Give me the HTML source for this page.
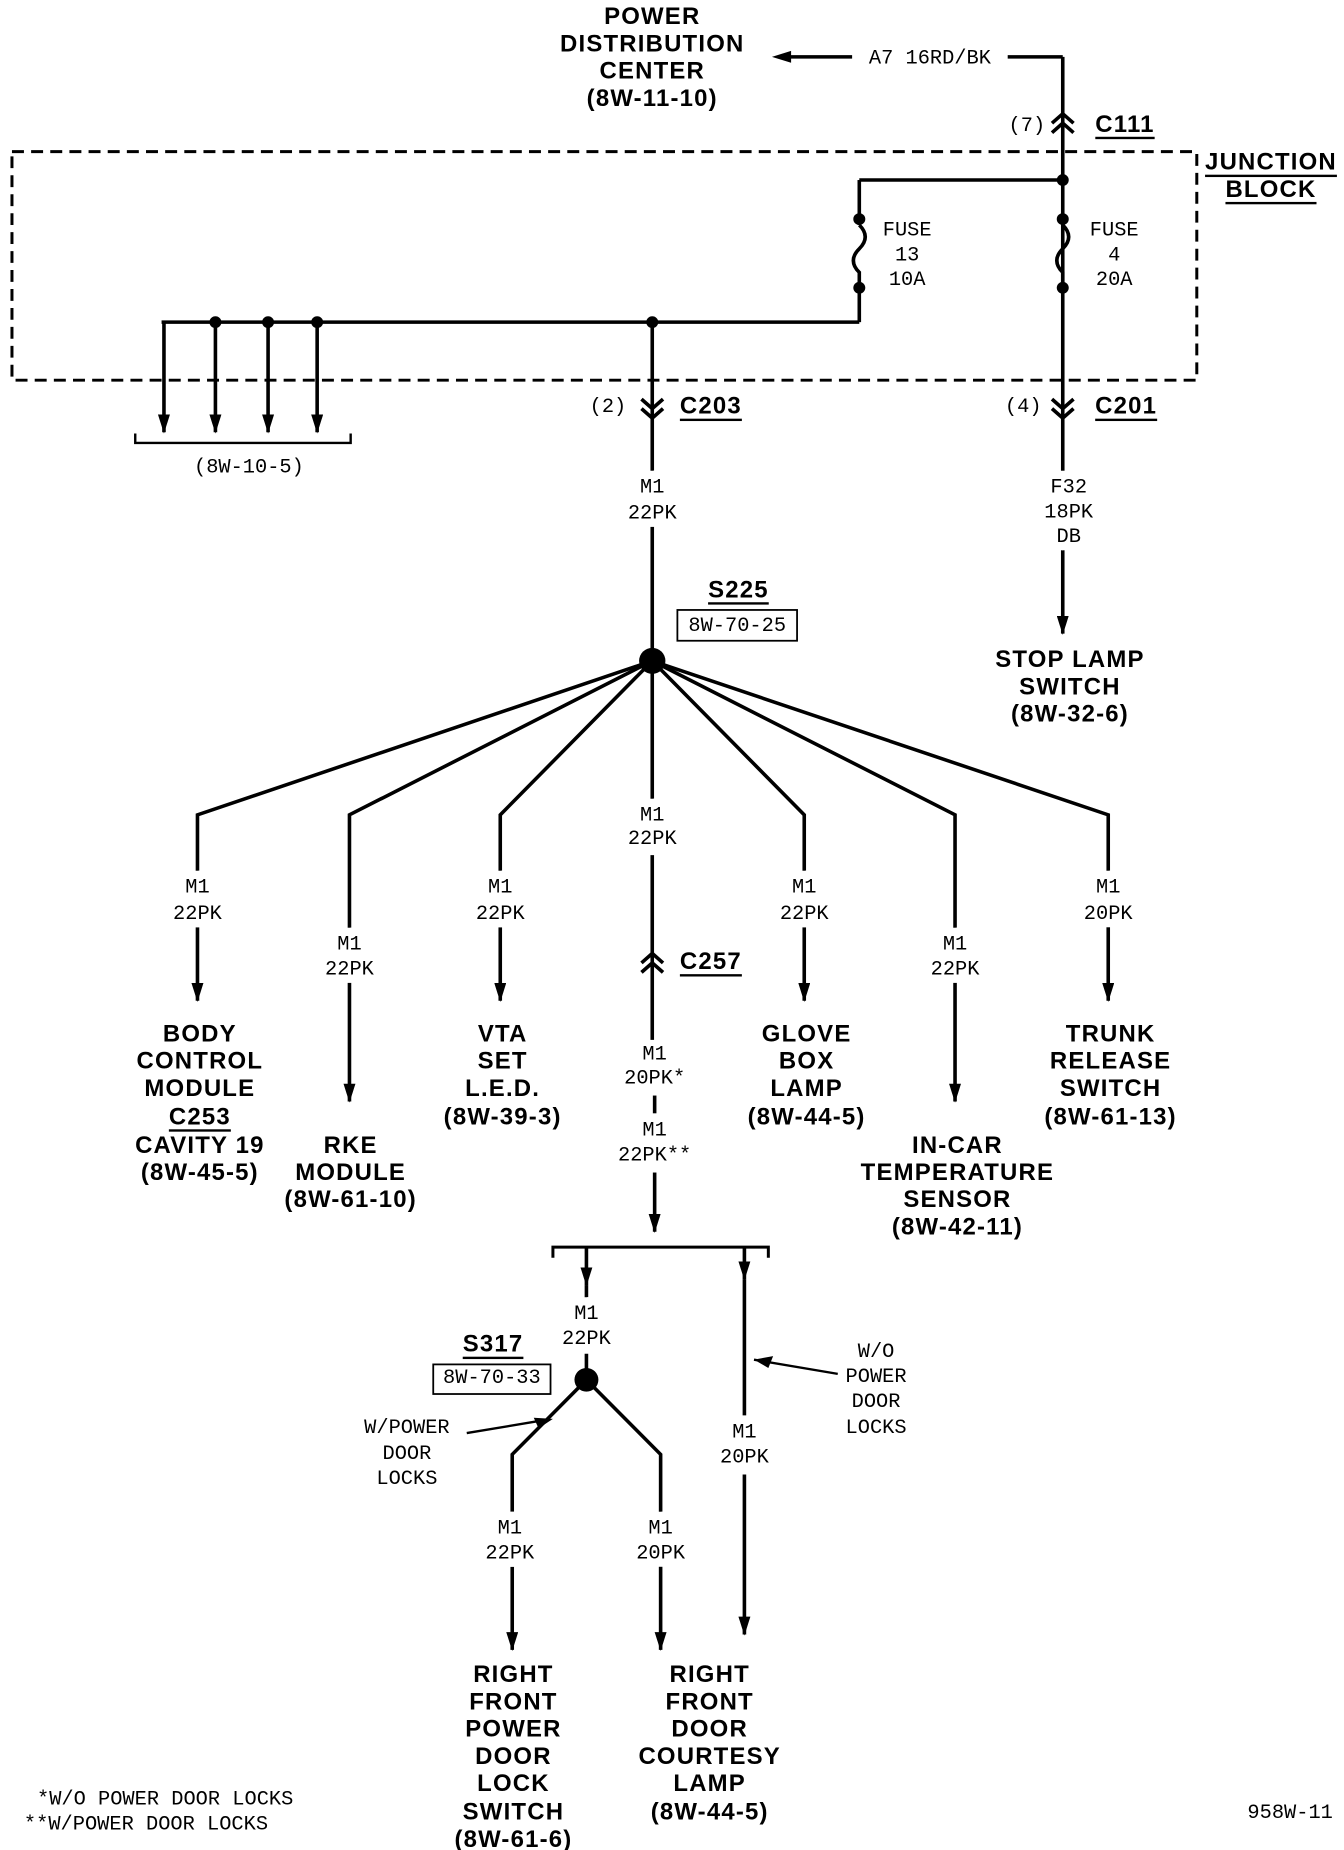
<!DOCTYPE html>
<html><head><meta charset="utf-8"><style>
html,body{margin:0;padding:0;background:#fff;}
svg{display:block;}
.s{font-family:"Liberation Mono",monospace;font-size:17px;fill:#000;text-anchor:middle;dominant-baseline:central;}
.s text.w{paint-order:stroke;stroke:#fff;stroke-width:14px;}
.b{font-family:"Liberation Sans",sans-serif;font-weight:bold;font-size:20px;fill:#000;text-anchor:middle;dominant-baseline:central;letter-spacing:1px;}
</style></head><body>
<svg width="1344" height="1850" viewBox="0 0 1123 1562" preserveAspectRatio="none" xmlns="http://www.w3.org/2000/svg">
<defs><marker id="a" markerWidth="16" markerHeight="10" refX="15" refY="5" orient="auto" markerUnits="userSpaceOnUse"><path d="M0,0 L16,5 L0,10 Z" fill="#000"/></marker></defs>
<g stroke="#000" stroke-width="3" fill="none">
<line x1="660" y1="48" x2="712" y2="48"/><line x1="842" y1="48" x2="888" y2="48"/>
<path d="M645,48 L661,43 L661,53 Z" fill="#000" stroke="none"/>
<line x1="888" y1="48" x2="888" y2="243"/>
<path d="M879,104 L888,96 L897,104 M879,112 L888,104 L897,112"/>
<rect x="10" y="128" width="990" height="193" stroke-dasharray="10,6" stroke-width="2.5"/>
<line x1="718" y1="152" x2="888" y2="152"/>
<line x1="718" y1="152" x2="718" y2="190"/>
<path d="M718,190 q10,10 0,20 q-10,10 0,20 L718,243"/>
<path d="M888,190 q10,10 0,20 q-10,10 0,20 L888,243" />
<line x1="718" y1="243" x2="718" y2="272"/>
<line x1="135" y1="272" x2="718" y2="272"/>
<line x1="137" y1="272" x2="137" y2="365" marker-end="url(#a)"/>
<line x1="180" y1="272" x2="180" y2="365" marker-end="url(#a)"/>
<line x1="224" y1="272" x2="224" y2="365" marker-end="url(#a)"/>
<line x1="265" y1="272" x2="265" y2="365" marker-end="url(#a)"/>
<path d="M113,366 L113,374 L293,374 L293,366" stroke-width="2"/>
<line x1="545" y1="272" x2="545" y2="558"/>
<path d="M536,337 L545,345 L554,337 M536,345 L545,353 L554,345"/>
<line x1="888" y1="243" x2="888" y2="535" marker-end="url(#a)"/>
<path d="M879,337 L888,345 L897,337 M879,345 L888,353 L897,345"/>
<path d="M545,558 L165,688 L165,845" marker-end="url(#a)"/>
<path d="M545,558 L292,688 L292,930" marker-end="url(#a)"/>
<path d="M545,558 L418,688 L418,845" marker-end="url(#a)"/>
<path d="M545,558 L672,688 L672,845" marker-end="url(#a)"/>
<path d="M545,558 L798,688 L798,930" marker-end="url(#a)"/>
<path d="M545,558 L926,688 L926,845" marker-end="url(#a)"/>
<line x1="545" y1="558" x2="545" y2="675"/>
<line x1="545" y1="722" x2="545" y2="878"/>
<path d="M536,813 L545,805 L554,813 M536,821 L545,813 L554,821"/>
<line x1="547" y1="925" x2="547" y2="940"/>
<line x1="547" y1="990" x2="547" y2="1040" marker-end="url(#a)"/>
<path d="M462,1062 L462,1053 L642,1053 L642,1062" stroke-width="2.5"/>
<line x1="490" y1="1053" x2="490" y2="1085" marker-end="url(#a)"/>
<line x1="490" y1="1085" x2="490" y2="1097"/>
<line x1="490" y1="1143" x2="490" y2="1165"/>
<line x1="622" y1="1053" x2="622" y2="1080" marker-end="url(#a)"/>
<line x1="622" y1="1080" x2="622" y2="1195"/>
<line x1="622" y1="1245" x2="622" y2="1380" marker-end="url(#a)"/>
<path d="M490,1165 L428,1228 L428,1393" marker-end="url(#a)"/>
<path d="M490,1165 L552,1228 L552,1393" marker-end="url(#a)"/>
<line x1="700" y1="1160" x2="630" y2="1148" stroke-width="2"/>
<line x1="390" y1="1210" x2="455" y2="1199" stroke-width="2"/>
<rect x="566" y="515" width="100" height="26" stroke-width="1.5"/>
<rect x="362" y="1152" width="98" height="25" stroke-width="1.5"/>
</g>
<g fill="#000">
<circle cx="888" cy="152" r="5"/><circle cx="718" cy="185" r="5"/><circle cx="718" cy="243" r="5"/>
<circle cx="888" cy="185" r="5"/><circle cx="888" cy="243" r="5"/>
<circle cx="180" cy="272" r="5"/><circle cx="224" cy="272" r="5"/><circle cx="265" cy="272" r="5"/><circle cx="545" cy="272" r="5"/>
<circle cx="545" cy="558" r="11"/><circle cx="490" cy="1165" r="10"/>
<path d="M630,1148 L646,1145 L642,1155 Z"/>
<path d="M462,1198 L446,1197 L450,1206 Z"/>
</g>
<g class="b">
<text x="545" y="14">POWER</text><text x="545" y="37">DISTRIBUTION</text><text x="545" y="60">CENTER</text><text x="545" y="83">(8W-11-10)</text>
<text x="940" y="105" text-decoration="underline">C111</text>
<text x="1062" y="137" text-decoration="underline">JUNCTION</text><text x="1062" y="160" text-decoration="underline">BLOCK</text>
<text x="594" y="343" text-decoration="underline">C203</text>
<text x="941" y="343" text-decoration="underline">C201</text>
<text x="617" y="498" text-decoration="underline">S225</text>
<text x="894" y="557">STOP LAMP</text><text x="894" y="580">SWITCH</text><text x="894" y="603">(8W-32-6)</text>
<text x="594" y="812" text-decoration="underline">C257</text>
<text x="167" y="873">BODY</text><text x="167" y="896">CONTROL</text><text x="167" y="919">MODULE</text><text x="167" y="943" text-decoration="underline">C253</text><text x="167" y="967">CAVITY 19</text><text x="167" y="990">(8W-45-5)</text>
<text x="293" y="967">RKE</text><text x="293" y="990">MODULE</text><text x="293" y="1013">(8W-61-10)</text>
<text x="420" y="873">VTA</text><text x="420" y="896">SET</text><text x="420" y="919">L.E.D.</text><text x="420" y="943">(8W-39-3)</text>
<text x="674" y="873">GLOVE</text><text x="674" y="896">BOX</text><text x="674" y="919">LAMP</text><text x="674" y="943">(8W-44-5)</text>
<text x="800" y="967">IN-CAR</text><text x="800" y="990">TEMPERATURE</text><text x="800" y="1013">SENSOR</text><text x="800" y="1036">(8W-42-11)</text>
<text x="928" y="873">TRUNK</text><text x="928" y="896">RELEASE</text><text x="928" y="919">SWITCH</text><text x="928" y="943">(8W-61-13)</text>
<text x="412" y="1135" text-decoration="underline">S317</text>
<text x="429" y="1414">RIGHT</text><text x="429" y="1437">FRONT</text><text x="429" y="1460">POWER</text><text x="429" y="1483">DOOR</text><text x="429" y="1506">LOCK</text><text x="429" y="1530">SWITCH</text><text x="429" y="1553">(8W-61-6)</text>
<text x="593" y="1414">RIGHT</text><text x="593" y="1437">FRONT</text><text x="593" y="1460">DOOR</text><text x="593" y="1483">COURTESY</text><text x="593" y="1506">LAMP</text><text x="593" y="1530">(8W-44-5)</text>
</g>
<g class="s">
<text x="777" y="50">A7 16RD/BK</text>
<text x="858" y="107">(7)</text>
<text x="758" y="195">FUSE</text><text x="758" y="216">13</text><text x="758" y="237">10A</text>
<text x="931" y="195">FUSE</text><text x="931" y="216">4</text><text x="931" y="237">20A</text>
<text x="508" y="344">(2)</text><text x="855" y="344">(4)</text>
<text x="208" y="395">(8W-10-5)</text>
<text class="w" x="545" y="412">M1</text><text class="w" x="545" y="434">22PK</text>
<text class="w" x="893" y="412">F32</text><text class="w" x="893" y="433">18PK</text><text class="w" x="893" y="454">DB</text>
<text x="616" y="529">8W-70-25</text>
<text class="w" x="165" y="750">M1</text><text class="w" x="165" y="772">22PK</text>
<text class="w" x="292" y="798">M1</text><text class="w" x="292" y="819">22PK</text>
<text class="w" x="418" y="750">M1</text><text class="w" x="418" y="772">22PK</text>
<text class="w" x="545" y="689">M1</text><text class="w" x="545" y="709">22PK</text>
<text class="w" x="672" y="750">M1</text><text class="w" x="672" y="772">22PK</text>
<text class="w" x="798" y="798">M1</text><text class="w" x="798" y="819">22PK</text>
<text class="w" x="926" y="750">M1</text><text class="w" x="926" y="772">20PK</text>
<text x="547" y="891">M1</text><text x="547" y="911">20PK*</text>
<text x="547" y="955">M1</text><text x="547" y="976">22PK**</text>
<text class="w" x="490" y="1110">M1</text><text class="w" x="490" y="1131">22PK</text>
<text x="411" y="1164">8W-70-33</text>
<text x="732" y="1142">W/O</text><text x="732" y="1163">POWER</text><text x="732" y="1184">DOOR</text><text x="732" y="1206">LOCKS</text>
<text class="w" x="622" y="1210">M1</text><text class="w" x="622" y="1231">20PK</text>
<text x="340" y="1206">W/POWER</text><text x="340" y="1228">DOOR</text><text x="340" y="1249">LOCKS</text>
<text class="w" x="426" y="1291">M1</text><text class="w" x="426" y="1312">22PK</text>
<text class="w" x="552" y="1291">M1</text><text class="w" x="552" y="1312">20PK</text>
<text x="138" y="1520">*W/O POWER DOOR LOCKS</text>
<text x="122" y="1541">**W/POWER DOOR LOCKS</text>
<text x="1078" y="1531">958W-11</text>
</g>
</svg>
</body></html>
